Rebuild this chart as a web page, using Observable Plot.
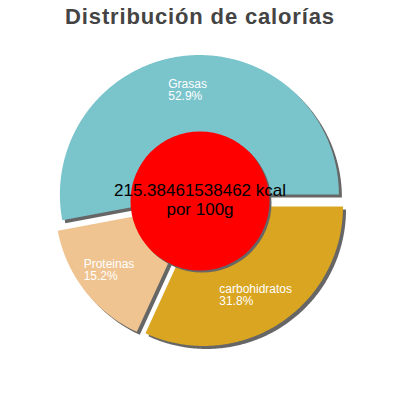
<!DOCTYPE html>
<html><head><meta charset="utf-8">
<script src="https://cdn.jsdelivr.net/npm/d3@7"></script>
<script src="https://cdn.jsdelivr.net/npm/@observablehq/plot@0.6"></script>
<style>
body{margin:0;background:#fff;}
#title{font:bold 22px "Liberation Sans",Arial,sans-serif;color:#444;text-align:center;height:34px;line-height:34px;letter-spacing:0.85px;width:400px;}
g[aria-label="slice-labels"] text{letter-spacing:0.7px;}
g[aria-label="center-label"] text{letter-spacing:0.6px;}
</style></head><body>
<div id="title">Distribución de calorías</div>
<div id="chart"></div>
<script>
// data
const categories = ["Grasas", "Proteinas", "carbohidratos"];
const percents = [52.9, 15.2, 31.8];
const energyValue = "215.38461538462";
const energyUnit = "kcal";
const perLabel = "por 100g";

// styles / layout
const colors = ["#7ac4cc", "#efc491", "#daa520"];
const W = 400, H = 366, CX = 199.5, CY = 166.5, R = 139.5, EXPLODE = 6.5, LABEL_R = 105, HOLE_R = 69.5;
const FONT = '"Liberation Sans", Arial, sans-serif';

const total = d3.sum(percents);
let acc = 0;
const slices = categories.map((name, i) => {
  const a0 = acc / total * 2 * Math.PI; acc += percents[i];
  const a1 = acc / total * 2 * Math.PI;
  const mid = (a0 + a1) / 2;
  return {name, pct: percents[i], color: colors[i], a0, a1, mid,
    ox: CX + EXPLODE * Math.cos(mid), oy: CY - EXPLODE * Math.sin(mid)};
});
function polygon(s, i) {
  const n = Math.max(8, Math.ceil((s.a1 - s.a0) / (Math.PI / 360)));
  const pts = [{slice: i, x: s.ox, y: s.oy}];
  for (let k = 0; k <= n; k++) {
    const a = s.a0 + (s.a1 - s.a0) * k / n;
    pts.push({slice: i, x: s.ox + R * Math.cos(a), y: s.oy - R * Math.sin(a)});
  }
  return pts;
}
const polys = slices.map(polygon);

const ctx = document.createElement("canvas").getContext("2d");
ctx.font = "12px " + FONT;
const labels = slices.map(s => {
  const lines = [s.name, s.pct.toFixed(1) + "%"];
  const w = d3.max(lines, l => ctx.measureText(l).width + 0.7 * l.length);
  return {text: lines.join("\n"),
    x: s.ox + LABEL_R * Math.cos(s.mid) - w / 2,
    y: s.oy - LABEL_R * Math.sin(s.mid)};
});

const marks = [];
polys.forEach(p => marks.push(Plot.line(p, {x: "x", y: "y", curve: "linear-closed", fill: "#666", stroke: "none", dx: 3, dy: 3})));
polys.forEach((p, i) => marks.push(Plot.line(p, {x: "x", y: "y", curve: "linear-closed", fill: slices[i].color, stroke: "none"})));
marks.push(Plot.dot([{x: CX, y: CY}], {x: "x", y: "y", r: HOLE_R, fill: "#666", stroke: "none", dx: 2, dy: 2}));
marks.push(Plot.dot([{x: CX, y: CY}], {x: "x", y: "y", r: HOLE_R, fill: "#ff0000", stroke: "none"}));
marks.push(Plot.text(labels, {x: "x", y: "y", text: "text", textAnchor: "start", lineAnchor: "middle",
  lineHeight: 1.0, fontSize: 12, fontFamily: FONT, fill: "white", ariaLabel: "slice-labels"}));
marks.push(Plot.text([{x: CX, y: CY, t: energyValue + " " + energyUnit + "\n" + perLabel}],
  {x: "x", y: "y", text: "t", textAnchor: "middle", lineAnchor: "middle", lineHeight: 1.12,
   fontSize: 17, fontFamily: FONT, fill: "black", dy: -2, ariaLabel: "center-label"}));

const chart = Plot.plot({
  width: W, height: H, margin: 0,
  x: {domain: [0, W], range: [0, W], axis: null},
  y: {domain: [0, H], range: [0, H], axis: null},
  style: {background: "white"},
  marks
});
document.getElementById("chart").appendChild(chart);
</script>
</body></html>
